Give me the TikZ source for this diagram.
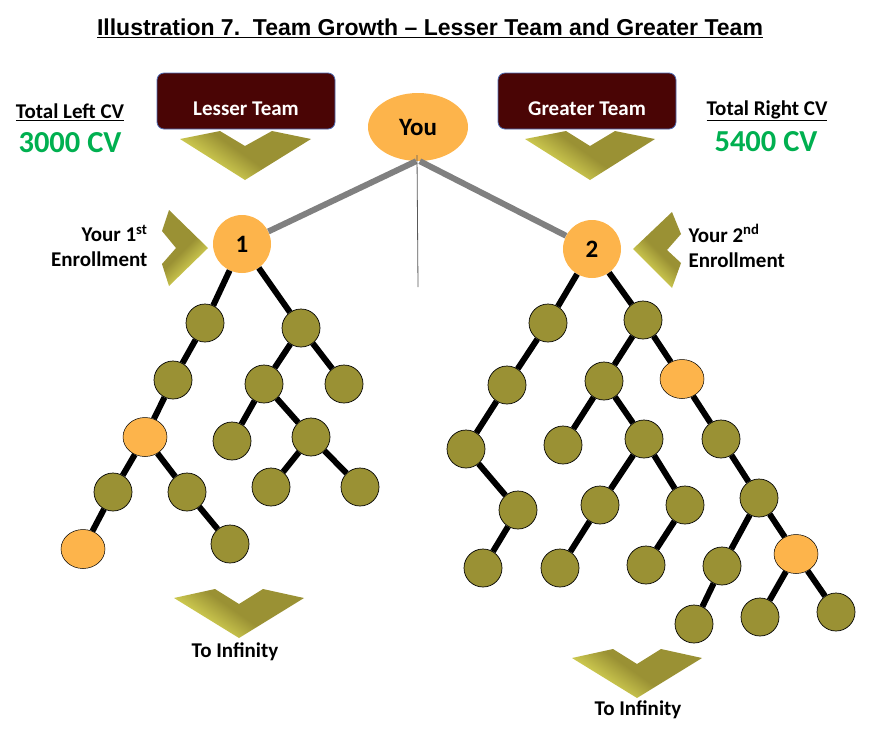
\documentclass[tikz,border=0pt]{standalone}
\usepackage{fontspec}
\setmainfont{Carlito}
\newfontfamily\titlefont{Liberation Sans}
\usetikzlibrary{calc, shapes}
\definecolor{youorange}{HTML}{FDB44B}
\definecolor{memberolive}{HTML}{9A9134}
\definecolor{boxmaroon}{HTML}{4A0505}
\definecolor{boxblue}{HTML}{4F6DB5}
\definecolor{linegray}{HTML}{808080}
\definecolor{cvgreen}{HTML}{00B050}
\definecolor{chevyellow}{HTML}{EFEF62}
\tikzset{
	member/.style={circle, draw=black, line width=.7pt, fill=memberolive, minimum size=38pt, inner sep=0pt},
	star/.style={ellipse, draw=black, line width=.5pt, fill=youorange, minimum width=44pt, minimum height=39pt, inner sep=0pt},
	enroller/.style={circle, fill=youorange, minimum size=58pt, inner sep=0pt, font=\bfseries\fontsize{25}{27}\selectfont},
	teambox/.style={rectangle, rounded corners=7pt, draw=boxblue, line width=.8pt, fill=boxmaroon, minimum width=178pt, minimum height=56pt},
	teamlabel/.style={text=white, font=\bfseries\fontsize{21}{24}\selectfont},
	caption/.style={font=\bfseries\fontsize{21}{25}\selectfont, text=black},
	cvtotal/.style={font=\bfseries\fontsize{30.5}{33}\selectfont, text=cvgreen},
	leg/.style={line width=6pt, black},
	upline/.style={line width=6pt, linegray},
	chevron/.style={bottom color=chevyellow, top color=memberolive, middle color=memberolive, shading angle=#1}
}
\begin{document}
\begin{tikzpicture}[x=1pt, y=-1pt]
	\useasboundingbox (0,0) rectangle (882,732);
	\node (TITLE) at (430,28) {\titlefont\bfseries\fontsize{23}{26}\selectfont\underline{Illustration 7.\ \ Team Growth – Lesser Team and Greater Team}};

	% team boxes and totals
	\node [teambox] (LESSER) at (246,101) {};
	\node [teambox] (GREATER) at (587,101) {};
	\node [teamlabel] (LESSERTXT) at (246,109) {Lesser Team};
	\node [teamlabel] (GREATERTXT) at (587,109) {Greater Team};
	\node [caption] (LEFTCV) at (70,112) {\underline{Total Left CV}};
	\node [caption] (RIGHTCV) at (767,111) {\underline{Total Right CV}};
	\node [cvtotal] (LEFTSUM) at (70,143) {3000 CV};
	\node [cvtotal] (RIGHTSUM) at (766,142) {5400 CV};

	% chevrons
	\shade [chevron=-35] (180,139) -- (220,131) -- (245,146) -- (272,131) -- (311,139) -- (245,180) -- cycle;
	\shade [chevron=-35] (525,139) -- (566,131) -- (590,146) -- (615,131) -- (655,139) -- (590,180) -- cycle;
	\shade [chevron=45] (169,210) -- (208,248) -- (169,286) -- (162,264) -- (176,248) -- (162,231) -- cycle;
	\shade [chevron=-45] (672,212) -- (633,249) -- (672,288) -- (681,263) -- (667,250) -- (681,234) -- cycle;
	\shade [chevron=-35] (174,598) -- (215,589) -- (239,604) -- (263,589) -- (304,598) -- (239,638) -- cycle;
	\shade [chevron=-35] (572,658) -- (613,649) -- (637,664) -- (661,649) -- (702,658) -- (637,698) -- cycle;

	\node [caption, align=right, anchor=east] (FIRST) at (151,246) {Your 1\textsuperscript{st}\\Enrollment};
	\node [caption, align=left, anchor=west] (SECOND) at (685,246) {Your 2\textsuperscript{nd}\\Enrollment};
	\node [caption] (INFL) at (235,652) {To Infinity};
	\node [caption] (INFR) at (638,710) {To Infinity};

	% top of the tree
	\node [ellipse, fill=youorange, minimum width=100pt, minimum height=68pt, inner sep=0pt, font=\bfseries\fontsize{25}{27}\selectfont] (YOU) at (418,127) {You};
	\node [enroller] (ONE) at (242,244) {1};
	\node [enroller] (TWO) at (592,249) {2};
	\coordinate (STEMTOP) at (417,155);
	\coordinate (STEMEND) at (418,287);
	\draw [upline] (YOU.-93) -- (ONE);
	\draw [upline] (YOU.-87) -- (TWO);
	\draw [line width=.8pt, black!65] (STEMTOP) -- (STEMEND);

	% lesser team
	\foreach \name/\x/\y in {L1/205/323, L2/301/328, L3/173/380, L4/264/384, L5/344/384, L7/232/441, L8/311/437,
		L9/113/492, L10/187/492, L11/271/487, L12/360/487, L14/230/544}
		\node [member] (\name) at (\x,\y) {};
	\node [star] (L6) at (145,437) {};
	\node [star] (L13) at (83,549) {};
	\foreach \from/\to in {ONE/L1, ONE/L2, L1/L3, L3/L6, L2/L4, L2/L5, L4/L7, L4/L8, L6/L9, L6/L10, L8/L11, L8/L12, L9/L13, L10/L14}
		\draw [leg] (\from) -- (\to);

	% greater team
	\foreach \name/\x/\y in {R1/548/323, R2/643/320, R3/507/385, R4/604/381, R6/466/449, R7/563/445, R8/644/439, R9/721/439,
		R10/518/510, R11/600/505, R12/685/505, R13/759/498, R14/483/568, R15/560/568, R16/646/565, R17/722/566,
		R19/694/624, R20/760/617, R21/836/612}
		\node [member] (\name) at (\x,\y) {};
	\node [star] (R5) at (682,379) {};
	\node [star] (R18) at (796,554) {};
	\foreach \from/\to in {TWO/R1, TWO/R2, R1/R3, R3/R6, R6/R10, R10/R14, R2/R4, R2/R5, R4/R7, R4/R8, R8/R11, R8/R12, R11/R15,
		R12/R16, R5/R9, R9/R13, R13/R17, R13/R18, R17/R19, R18/R20, R18/R21}
		\draw [leg] (\from) -- (\to);
\end{tikzpicture}
\end{document}
